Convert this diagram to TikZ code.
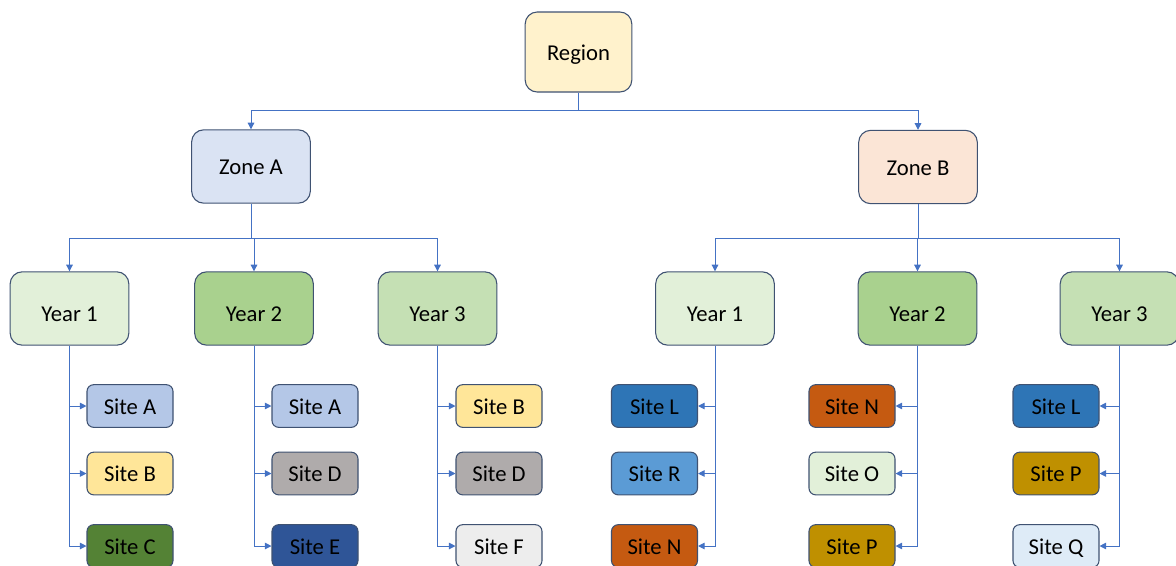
\documentclass[tikz,border=0pt]{standalone}
\usepackage{fontspec}
\setmainfont{Carlito}
\usetikzlibrary{arrows.meta}
\definecolor{edgec}{HTML}{4472C4}
\definecolor{bordc}{HTML}{3F5272}
\definecolor{cRegion}{HTML}{FFF2CC}
\definecolor{cZoneA}{HTML}{DAE3F3}
\definecolor{cZoneB}{HTML}{FBE5D6}
\definecolor{cY1}{HTML}{E2F0D9}
\definecolor{cY2}{HTML}{A9D18E}
\definecolor{cY3}{HTML}{C5E0B4}
\definecolor{cSA}{HTML}{B4C7E7}
\definecolor{cSB}{HTML}{FFE699}
\definecolor{cSC}{HTML}{548235}
\definecolor{cSD}{HTML}{AFABAB}
\definecolor{cSE}{HTML}{2F5597}
\definecolor{cSF}{HTML}{EDEDED}
\definecolor{cSL}{HTML}{2E75B6}
\definecolor{cSR}{HTML}{5B9BD5}
\definecolor{cSN}{HTML}{C55A11}
\definecolor{cSO}{HTML}{E2F0D9}
\definecolor{cSP}{HTML}{BF9000}
\definecolor{cSQ}{HTML}{DEEBF7}
\tikzset{
  bigbox/.style={draw=bordc, line width=0.8pt, rounded corners=9pt, minimum width=89pt, minimum height=55pt, inner sep=0pt, text height=12pt, text depth=0pt, font=\fontsize{17}{20}\selectfont, text=black},
  yearbox/.style={bigbox, text height=19pt},
  regbox/.style={bigbox, minimum width=80pt, minimum height=60pt},
  sitebox/.style={draw=bordc, line width=0.8pt, rounded corners=5pt, minimum width=64.5pt, minimum height=32pt, inner sep=0pt, text height=12pt, text depth=0pt, font=\fontsize{17}{20}\selectfont, text=black},
  conn/.style={draw=edgec, line width=0.75pt},
  arr/.style={conn, -{Triangle[length=5pt,width=5pt]}}
}
\begin{document}
\begin{tikzpicture}[x=0.75pt,y=-0.75pt]
\useasboundingbox (0,0) rectangle (1176,565);
% nodes
\node[regbox, fill=cRegion] (reg) at (578.5,52) {Region};
\node[bigbox, fill=cZoneA] (zA) at (251,166.5) {Zone A};
\node[bigbox, fill=cZoneB] (zB) at (918,167) {Zone B};
\node[yearbox, fill=cY1] (ya1) at (69.5,308.5) {Year 1};
\node[yearbox, fill=cY2] (ya2) at (254,308.5) {Year 2};
\node[yearbox, fill=cY3] (ya3) at (437.5,308.5) {Year 3};
\node[yearbox, fill=cY1] (yb1) at (715,308.5) {Year 1};
\node[yearbox, fill=cY2] (yb2) at (917.5,308.5) {Year 2};
\node[yearbox, fill=cY3] (yb3) at (1119.5,308.5) {Year 3};
% sites zone A
\node[sitebox, fill=cSA] (a1s1) at (130,406) {Site A};
\node[sitebox, fill=cSB] (a1s2) at (130,473.5) {Site B};
\node[sitebox, fill=cSC] (a1s3) at (130,546) {Site C};
\node[sitebox, fill=cSA] (a2s1) at (315,406) {Site A};
\node[sitebox, fill=cSD] (a2s2) at (315,473.5) {Site D};
\node[sitebox, fill=cSE] (a2s3) at (315,546) {Site E};
\node[sitebox, fill=cSB] (a3s1) at (499,406) {Site B};
\node[sitebox, fill=cSD] (a3s2) at (499,473.5) {Site D};
\node[sitebox, fill=cSF] (a3s3) at (499,546) {Site F};
% sites zone B
\node[sitebox, fill=cSL] (b1s1) at (654.5,406) {Site L};
\node[sitebox, fill=cSR] (b1s2) at (654.5,473.5) {Site R};
\node[sitebox, fill=cSN] (b1s3) at (654.5,546) {Site N};
\node[sitebox, fill=cSN] (b2s1) at (852,406) {Site N};
\node[sitebox, fill=cSO] (b2s2) at (852,473.5) {Site O};
\node[sitebox, fill=cSP] (b2s3) at (852,546) {Site P};
\node[sitebox, fill=cSL] (b3s1) at (1056,406) {Site L};
\node[sitebox, fill=cSP] (b3s2) at (1056,473.5) {Site P};
\node[sitebox, fill=cSQ] (b3s3) at (1056,546) {Site Q};
% junction coordinates
\coordinate (jr) at (578.5,110);
\coordinate (jA) at (251,238);
\coordinate (jB) at (918,238);
% connectors
\draw[conn] (reg.south) -- (jr);
\draw[arr] (jr) -| (zA.north);
\draw[arr] (jr) -| (zB.north);
\draw[conn] (zA.south) -- (jA);
\foreach \y in {ya1,ya2,ya3} \draw[arr] (jA) -| (\y.north);
\draw[conn] (zB.south) -- (jB);
\foreach \y in {yb1,yb2,yb3} \draw[arr] (jB) -| (\y.north);
\foreach \y/\p in {ya1/a1, ya2/a2, ya3/a3} {
  \foreach \k in {1,2,3} \draw[arr] (\y.south) |- (\p s\k.west);
}
\foreach \y/\p in {yb1/b1, yb2/b2, yb3/b3} {
  \foreach \k in {1,2,3} \draw[arr] (\y.south) |- (\p s\k.east);
}
\end{tikzpicture}
\end{document}
